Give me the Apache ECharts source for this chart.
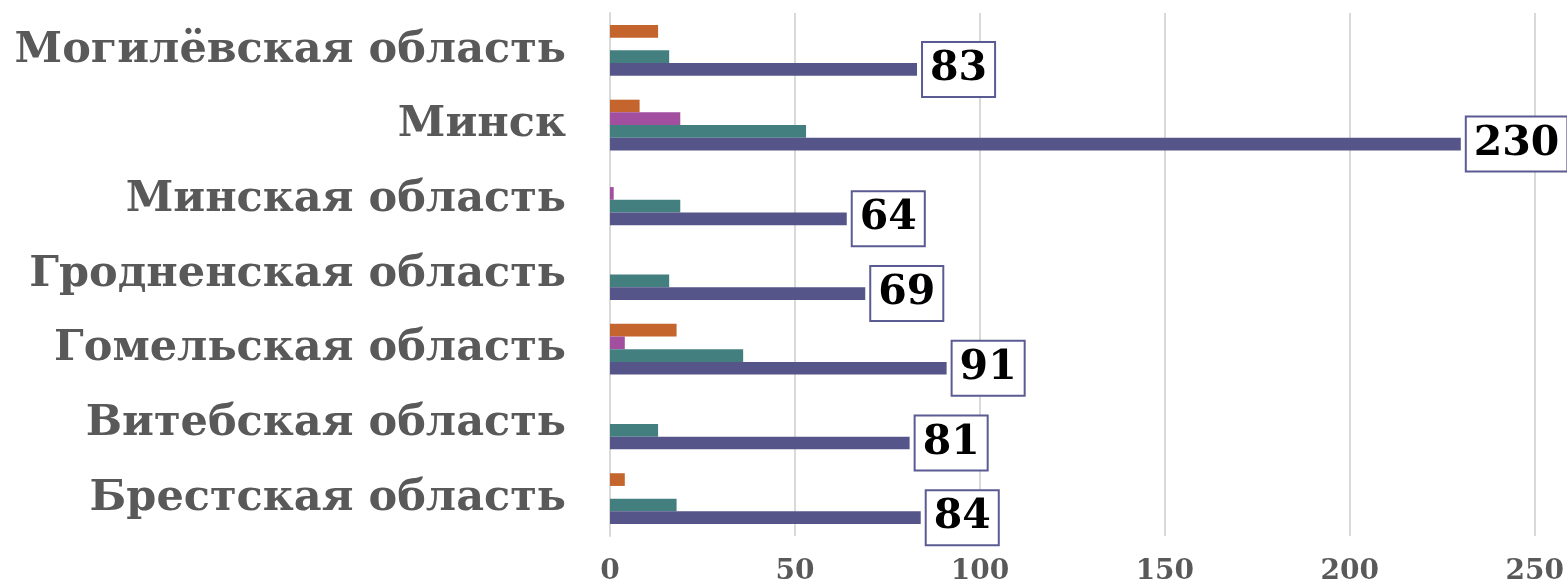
<!DOCTYPE html>
<html><head><meta charset="utf-8">
<script src="https://cdn.jsdelivr.net/npm/echarts@6/dist/echarts.min.js"></script>
<style>html,body{margin:0;padding:0;background:#fff}#c{width:1567px;height:587px}</style>
</head><body><div id="c"></div>
<script>
const categories = ['Брестская область','Витебская область','Гомельская область','Гродненская область','Минская область','Минск','Могилёвская область'];
const seriesMain = [84, 81, 91, 69, 64, 230, 83];
const seriesTeal = [18, 13, 36, 16, 19, 53, 16];
const seriesMagenta = [0, 0, 4, 0, 1, 19, 0];
const seriesOrange = [4, 0, 18, 0, 0, 8, 13];
const xTicks = [0, 50, 100, 150, 200, 250];

const chart = echarts.init(document.getElementById('c'), null, {renderer:'canvas'});
const barCommon = {type:'bar', barGap:'0%', barCategoryGap:'32%', silent:true};
chart.setOption({
  animation:false,
  grid:{left:610, right:32, top:13, bottom:51, containLabel:false},
  xAxis:{type:'value', min:xTicks[0], max:xTicks[xTicks.length-1], interval:50,
    axisLine:{show:false}, axisTick:{show:false},
    splitLine:{show:true, lineStyle:{color:'#d9d9d9', width:2}},
    axisLabel:{color:'#595959', fontFamily:'DejaVu Serif', fontWeight:'bold', fontSize:28, margin:22}},
  yAxis:{type:'category', data:categories,
    axisLine:{show:true, lineStyle:{color:'#d9d9d9', width:2}}, axisTick:{show:false},
    axisLabel:{color:'#595959', fontFamily:'DejaVu Serif', fontWeight:'bold', fontSize:43, margin:44}},
  series:[
    Object.assign({}, barCommon, {name:'orange', data:seriesOrange, itemStyle:{color:'#c4652e'}}),
    Object.assign({}, barCommon, {name:'magenta', data:seriesMagenta, itemStyle:{color:'#a24fa0'}}),
    Object.assign({}, barCommon, {name:'teal', data:seriesTeal, itemStyle:{color:'#447f80'}}),
    Object.assign({}, barCommon, {name:'main', data:seriesMain, itemStyle:{color:'#55558a'},
      label:{show:true, position:'right', distance:6, color:'#000', fontFamily:'DejaVu Serif', fontWeight:'bold',
        fontSize:41, lineHeight:42, backgroundColor:'#fff', borderColor:'#5b5b94', borderWidth:2, padding:[6,7,5,7]}})
  ]
});
</script></body></html>
